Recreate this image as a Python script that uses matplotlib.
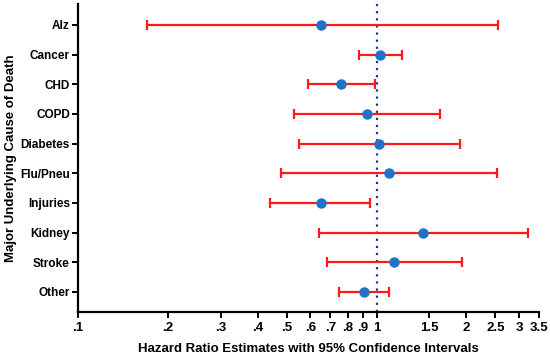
import matplotlib
matplotlib.use("Agg")
import matplotlib.pyplot as plt
from matplotlib.ticker import FixedLocator, NullLocator

plt.rcParams['font.family'] = ['Liberation Sans', 'DejaVu Sans']
plt.rcParams['font.weight'] = 'bold'

causes = ['Alz', 'Cancer', 'CHD', 'COPD', 'Diabetes', 'Flu/Pneu',
          'Injuries', 'Kidney', 'Stroke', 'Other']
hr = [0.65, 1.03, 0.76, 0.93, 1.02, 1.10, 0.65, 1.43, 1.14, 0.91]
lower = [0.17, 0.87, 0.59, 0.53, 0.55, 0.48, 0.44, 0.64, 0.68, 0.75]
upper = [2.55, 1.22, 0.985, 1.63, 1.91, 2.53, 0.95, 3.22, 1.93, 1.10]

xticks = [0.1, 0.2, 0.3, 0.4, 0.5, 0.6, 0.7, 0.8, 0.9, 1, 1.5, 2, 2.5, 3, 3.5]
xticklabels = ['.1', '.2', '.3', '.4', '.5', '.6', '.7', '.8', '.9', '1',
               '1.5', '2', '2.5', '3', '3.5']

fig = plt.figure(figsize=(5.5, 3.58), dpi=100)
ax = fig.add_axes([0.142, 0.1285, 0.838, 0.86])

ypos = list(range(len(causes)))
err_lo = [h - l for h, l in zip(hr, lower)]
err_hi = [u - h for h, u in zip(hr, upper)]

ax.axvline(1, color='#1a3a80', linestyle=(0, (1, 2.2)), linewidth=1.6, zorder=1)
ax.errorbar(hr, ypos, xerr=[err_lo, err_hi], fmt='none', ecolor='#ff1a1a',
            elinewidth=1.6, capsize=3.5, capthick=1.6, zorder=2)
ax.plot(hr, ypos, 'o', color='#1f72c6', markersize=6.5, zorder=3)

ax.set_xscale('log')
ax.set_xlim(0.1, 3.5)
ax.xaxis.set_major_locator(FixedLocator(xticks))
ax.xaxis.set_minor_locator(NullLocator())
ax.set_xticklabels(xticklabels)
ax.set_ylim(9.68, -0.7)
ax.set_yticks(ypos)
ax.set_yticklabels(causes)

for s in ['top', 'right']:
    ax.spines[s].set_visible(False)
for s in ['left', 'bottom']:
    ax.spines[s].set_linewidth(1.6)
ax.tick_params(axis='both', width=1.4, length=4, labelsize=8.5)
ax.tick_params(axis='x', pad=3, labelsize=9.5)
ax.tick_params(axis='y', pad=2)

ax.set_xlabel('Hazard Ratio Estimates with 95% Confidence Intervals',
              fontsize=9.5, fontweight='bold')
ax.set_ylabel('Major Underlying Cause of Death', fontsize=9.5, fontweight='bold')
ax.xaxis.set_label_coords(0.5, -0.10)
ax.yaxis.set_label_coords(-0.132, 0.5)

fig.savefig('out.png', dpi=100)
